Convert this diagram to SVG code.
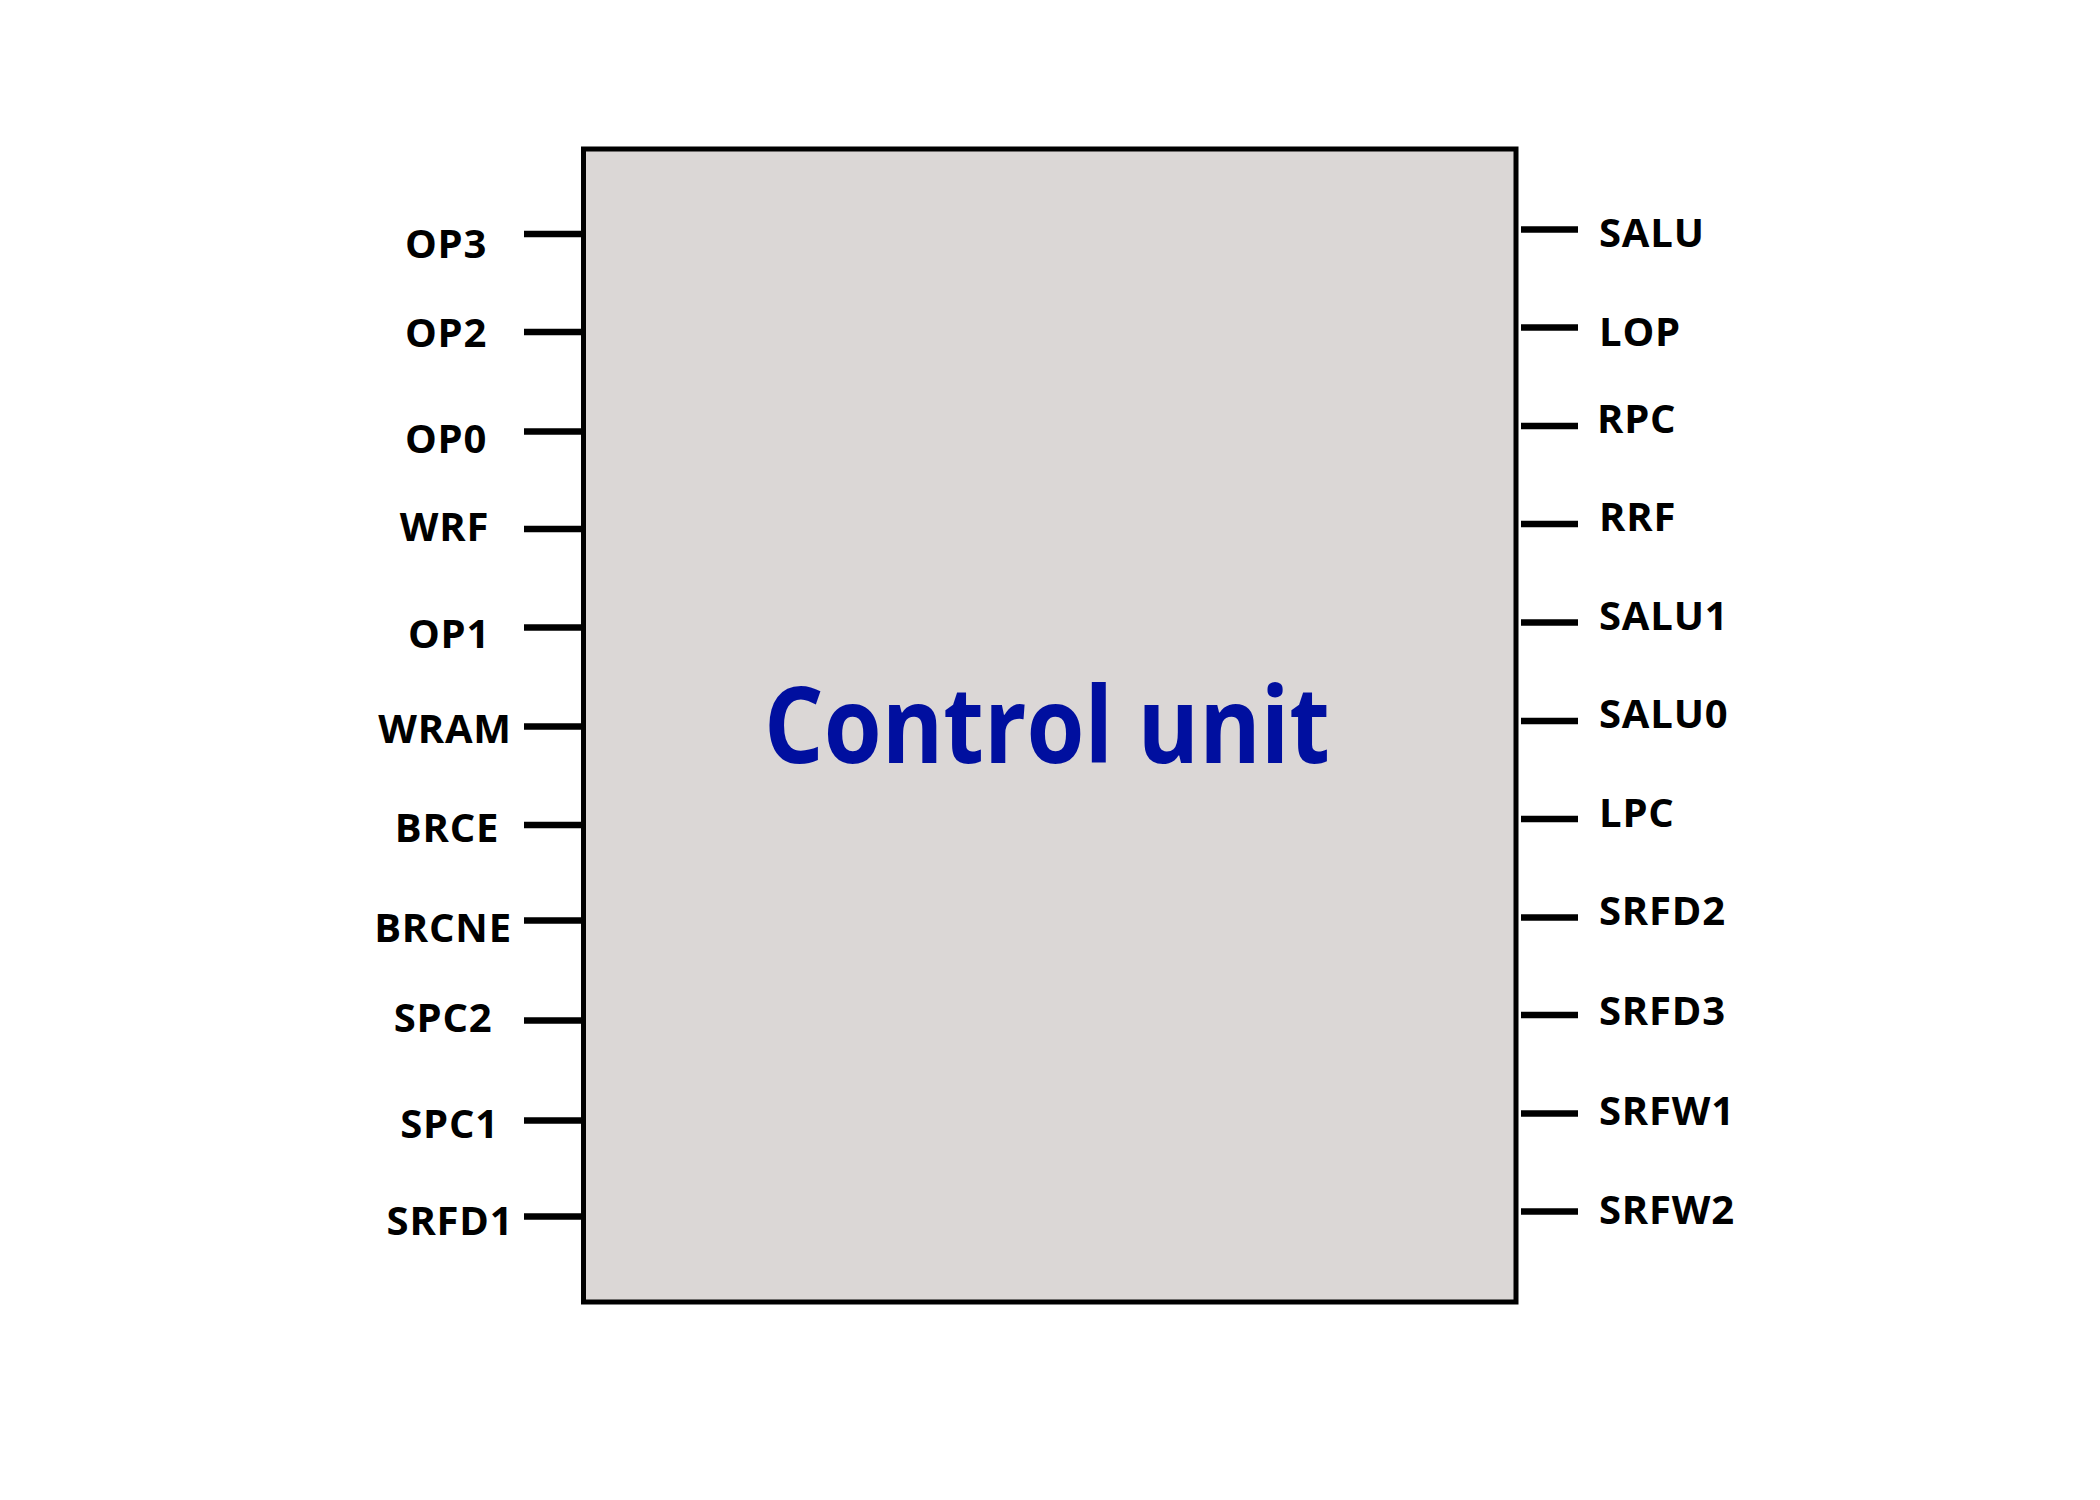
<svg xmlns="http://www.w3.org/2000/svg" width="2100" height="1500" viewBox="0 0 2100 1500">
<style>
.lbl{font-family:"Open Sans","Noto Sans","DejaVu Sans",sans-serif;font-weight:bold;font-size:40px;letter-spacing:0.8px;fill:#000}
.l{text-anchor:middle}
.r{text-anchor:start}
.pin{stroke:#000;stroke-width:6.5;fill:none}
.title{font-family:"Open Sans","Noto Sans",sans-serif;font-weight:bold;font-size:105px;fill:#000f9f;text-anchor:middle}
</style>
<rect width="2100" height="1500" fill="#fff"/>
<g id="control-unit">
<rect x="583.5" y="149" width="932.5" height="1153" fill="#dbd7d6" stroke="#000" stroke-width="5"/>
<text class="title" x="1047" y="763" textLength="566" lengthAdjust="spacingAndGlyphs">Control unit</text>
</g>
<g id="connectors">
<line class="pin" x1="524" y1="234" x2="583" y2="234"/>
<line class="pin" x1="524" y1="332" x2="583" y2="332"/>
<line class="pin" x1="524" y1="431.5" x2="583" y2="431.5"/>
<line class="pin" x1="524" y1="529" x2="583" y2="529"/>
<line class="pin" x1="524" y1="627.5" x2="583" y2="627.5"/>
<line class="pin" x1="524" y1="726.5" x2="583" y2="726.5"/>
<line class="pin" x1="524" y1="825" x2="583" y2="825"/>
<line class="pin" x1="524" y1="920.5" x2="583" y2="920.5"/>
<line class="pin" x1="524" y1="1020.5" x2="583" y2="1020.5"/>
<line class="pin" x1="524" y1="1120.5" x2="583" y2="1120.5"/>
<line class="pin" x1="524" y1="1216.5" x2="583" y2="1216.5"/>
<line class="pin" x1="1521" y1="229.5" x2="1578" y2="229.5"/>
<line class="pin" x1="1521" y1="327.5" x2="1578" y2="327.5"/>
<line class="pin" x1="1521" y1="426" x2="1578" y2="426"/>
<line class="pin" x1="1521" y1="524" x2="1578" y2="524"/>
<line class="pin" x1="1521" y1="622.5" x2="1578" y2="622.5"/>
<line class="pin" x1="1521" y1="721" x2="1578" y2="721"/>
<line class="pin" x1="1521" y1="819" x2="1578" y2="819"/>
<line class="pin" x1="1521" y1="917.5" x2="1578" y2="917.5"/>
<line class="pin" x1="1521" y1="1015" x2="1578" y2="1015"/>
<line class="pin" x1="1521" y1="1113.5" x2="1578" y2="1113.5"/>
<line class="pin" x1="1521" y1="1211.5" x2="1578" y2="1211.5"/>
</g>
<g id="in-OP3"><text class="lbl l" x="446" y="258">OP3</text></g>
<g id="in-OP2"><text class="lbl l" x="446" y="347">OP2</text></g>
<g id="in-OP0"><text class="lbl l" x="446" y="453">OP0</text></g>
<g id="in-WRF"><text class="lbl l" x="444.5" y="541">WRF</text></g>
<g id="in-OP1"><text class="lbl l" x="449" y="648">OP1</text></g>
<g id="in-WRAM"><text class="lbl l" x="445" y="743">WRAM</text></g>
<g id="in-BRCE"><text class="lbl l" x="447" y="842">BRCE</text></g>
<g id="in-BRCNE"><text class="lbl l" x="443" y="942">BRCNE</text></g>
<g id="in-SPC2"><text class="lbl l" x="443" y="1032">SPC2</text></g>
<g id="in-SPC1"><text class="lbl l" x="449.5" y="1138">SPC1</text></g>
<g id="in-SRFD1"><text class="lbl l" x="450" y="1235">SRFD1</text></g>
<g id="out-SALU"><text class="lbl r" x="1599" y="247">SALU</text></g>
<g id="out-LOP"><text class="lbl r" x="1599" y="346">LOP</text></g>
<g id="out-RPC"><text class="lbl r" x="1597" y="433">RPC</text></g>
<g id="out-RRF"><text class="lbl r" x="1599" y="531">RRF</text></g>
<g id="out-SALU1"><text class="lbl r" x="1599" y="630">SALU1</text></g>
<g id="out-SALU0"><text class="lbl r" x="1599" y="728">SALU0</text></g>
<g id="out-LPC"><text class="lbl r" x="1599" y="827">LPC</text></g>
<g id="out-SRFD2"><text class="lbl r" x="1599" y="925">SRFD2</text></g>
<g id="out-SRFD3"><text class="lbl r" x="1599" y="1025">SRFD3</text></g>
<g id="out-SRFW1"><text class="lbl r" x="1599" y="1125">SRFW1</text></g>
<g id="out-SRFW2"><text class="lbl r" x="1599" y="1224">SRFW2</text></g>
</svg>
